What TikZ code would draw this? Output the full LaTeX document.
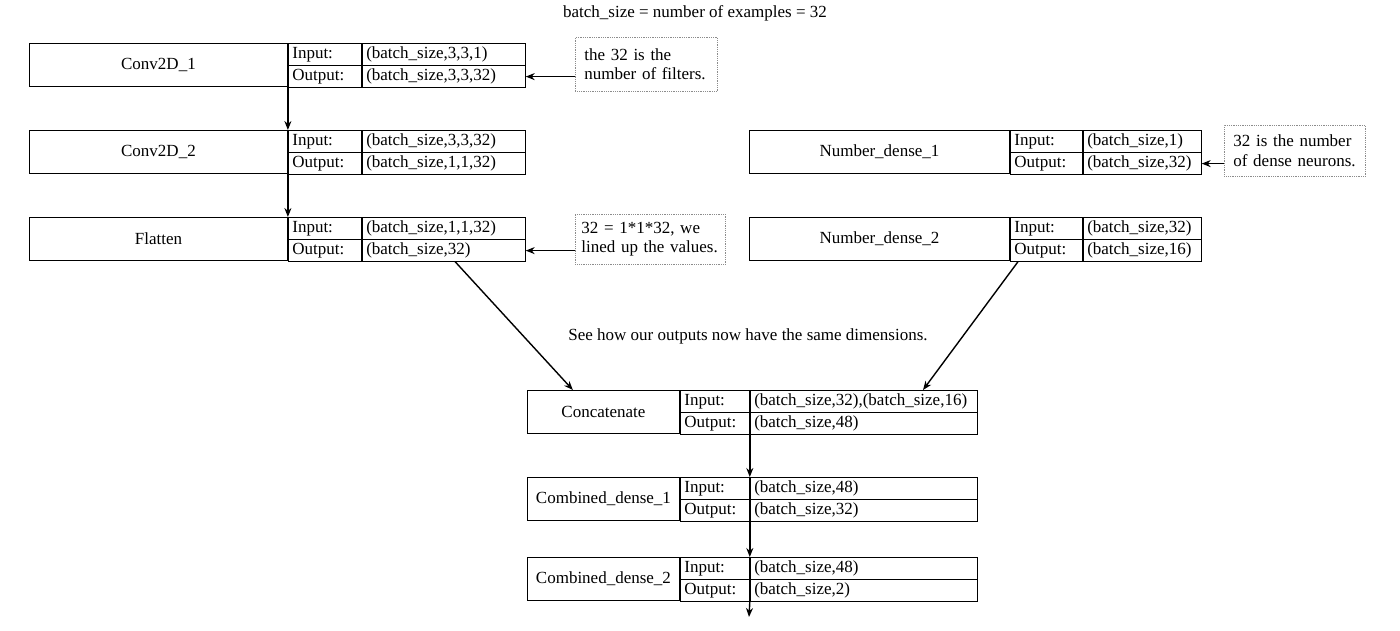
\documentclass[tikz,border=0pt]{standalone}
\usepackage{fontspec}
\setmainfont{Liberation Serif}
\usetikzlibrary{calc,arrows.meta}
\newcommand\dfont{\fontsize{17pt}{19.5pt}\selectfont}
\tikzset{
  cellmain/.style={draw, line width=0.9pt, inner sep=0pt, minimum height=43pt, align=center, font=\dfont},
  cellt/.style={draw, line width=0.9pt, inner xsep=4pt, inner ysep=0pt, minimum height=21.5pt, align=left, text height=11.5pt, text depth=3.5pt, font=\dfont},
  notebox/.style={draw=black!45, densely dotted, line width=0.8pt, inner xsep=9pt, inner ysep=0pt, align=left, font=\dfont, anchor=north west},
  arr/.style={-{Stealth[length=9pt,width=7pt]}, line width=1.4pt},
  plaintext/.style={font=\dfont, inner sep=0pt}
}
% name, x, y, main width, label text width, value text width, label, input, output
\newcommand\layer[9]{%
  \node[cellmain, minimum width=#4pt, anchor=north west] (#1) at (#2,#3) {#7};
  \node[cellt, text width=#5pt, anchor=north west] (#1-il) at (#1.north east) {Input:};
  \node[cellt, text width=#6pt, anchor=north west] (#1-iv) at (#1-il.north east) {#8};
  \node[cellt, text width=#5pt, anchor=north west] (#1-ol) at (#1-il.south west) {Output:};
  \node[cellt, text width=#6pt, anchor=north west] (#1-ov) at (#1-ol.north east) {#9};
}
\begin{document}
\begin{tikzpicture}[x=1pt,y=-1pt]
\useasboundingbox (0,0) rectangle (1400,630);

\node[plaintext] (title) at (695,13) {batch\_size = number of examples = 32};
\node[plaintext] (caption) at (748,336) {See how our outputs now have the same dimensions.};

\layer{c1}{29}{43}{258}{65}{155}{Conv2D\_1}{(batch\_size,3,3,1)}{(batch\_size,3,3,32)}
\layer{c2}{29}{130}{258}{65}{155}{Conv2D\_2}{(batch\_size,3,3,32)}{(batch\_size,1,1,32)}
\layer{fl}{29}{217}{258}{65}{155}{Flatten}{(batch\_size,1,1,32)}{(batch\_size,32)}

\layer{nd1}{749}{130}{260}{64}{110}{Number\_dense\_1}{(batch\_size,1)}{(batch\_size,32)}
\layer{nd2}{749}{217}{260}{64}{110}{Number\_dense\_2}{(batch\_size,32)}{(batch\_size,16)}

\layer{cat}{527}{390}{152}{61}{219}{Concatenate}{(batch\_size,32),(batch\_size,16)}{(batch\_size,48)}
\layer{cd1}{527}{477}{152}{61}{219}{Combined\_dense\_1}{(batch\_size,48)}{(batch\_size,32)}
\layer{cd2}{527}{557}{152}{61}{219}{Combined\_dense\_2}{(batch\_size,48)}{(batch\_size,2)}

\node[notebox, minimum height=54pt, text width=124pt] (n1) at (575,37) {the 32 is the\\number of filters.};
\node[notebox, minimum height=51pt, text width=123pt] (n2) at (1224,125) {32 is the number\\of dense neurons.};
\node[notebox, minimum height=50pt, text width=138pt, inner xsep=6pt] (n3) at (575,214) {32 = 1*1*32, we\\lined up the values.};

\coordinate (end) at (749,617);

\draw[arr] (c1.south east) -- (c2.north east);
\draw[arr] (c2.south east) -- (fl.north east);
\draw[arr] ($(fl-ov.south west)!0.57!(fl-ov.south east)$) -- ($(cat.north west)!0.30!(cat.north east)$);
\draw[arr] ($(nd2-ol.south west)!0.11!(nd2-ol.south east)$) -- ($(cat-iv.north west)!0.76!(cat-iv.north east)$);
\draw[arr] (cat-ol.south east) -- (cd1-il.north east);
\draw[arr] (cd1-ol.south east) -- (cd2-il.north east);
\draw[arr] (cd2-ol.south east) -- (end);

\draw[arr] (n1.west |- c1-ov.east) -- (c1-ov.east);
\draw[arr] (n2.west |- nd1-ov.east) -- (nd1-ov.east);
\draw[arr] (n3.west |- fl-ov.east) -- (fl-ov.east);
\end{tikzpicture}
\end{document}
